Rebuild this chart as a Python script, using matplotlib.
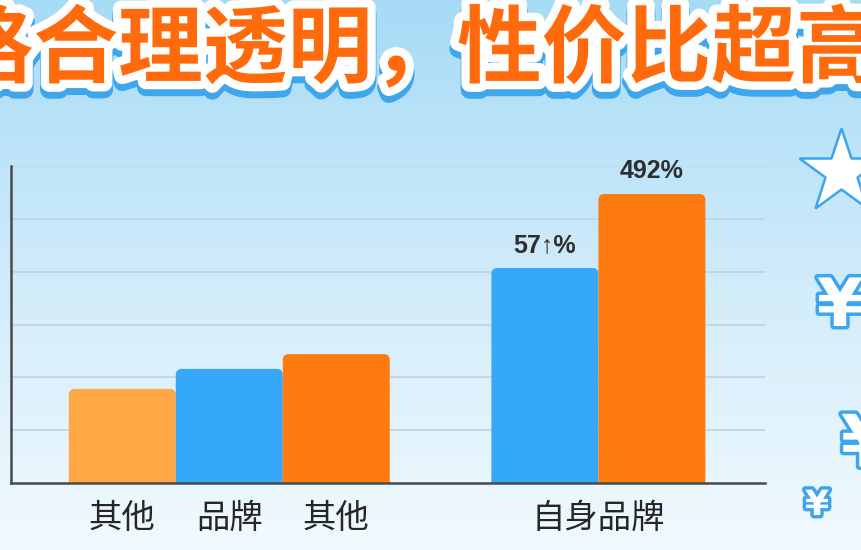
import numpy as np
import matplotlib
matplotlib.use("Agg")
import matplotlib.pyplot as plt
import matplotlib.patheffects as pe
from matplotlib.patches import FancyBboxPatch

plt.rcParams['font.family'] = ['Noto Sans CJK SC', 'DejaVu Sans']

# data (gridline = 10 units)
title = "价格合理透明，性价比超高"
group1_labels = ["其他", "品牌", "其他"]
group1_values = [17.8, 21.6, 24.4]
group1_colors = ["#FFA845", "#35A9F7", "#FF7B12"]
group2_label = "自身品牌"
group2_values = [40.7, 54.7]
group2_colors = ["#35A9F7", "#FF7B12"]
group2_texts = ["57↑%", "492%"]

W, H = 861, 550
fig = plt.figure(figsize=(W / 100, H / 100), dpi=100)

# background gradient
bg = fig.add_axes([0, 0, 1, 1], zorder=-5)
top = np.array([166, 219, 246]) / 255
mid = np.array([212, 237, 251]) / 255
bot = np.array([241, 250, 254]) / 255
t = np.linspace(0, 1, 256)[:, None]
grad = np.where(t < 0.55, top + (mid - top) * (t / 0.55), mid + (bot - mid) * ((t - 0.55) / 0.45))
bg.imshow(grad[:, None, :].repeat(2, axis=1), aspect='auto', extent=[0, W, H, 0])
bg.set_xlim(0, W)
bg.set_ylim(H, 0)
bg.axis('off')

# main chart
ax = fig.add_axes([11 / W, (H - 483) / H, 754 / W, 317 / H])
ax.set_facecolor('none')
ax.set_xlim(0, 7.047)
ax.set_ylim(0, 60)

g1_center, g2_center = 2.04, 5.49
x1 = [g1_center + o for o in (-1, 0, 1)]
x2 = [g2_center + o for o in (-0.5, 0.5)]

bars1 = ax.bar(x1, group1_values, width=1.0, color=group1_colors)
bars2 = ax.bar(x2, group2_values, width=1.0, color=group2_colors)

# rounded top corners: replace each bar by a rounded box, clipped at y=0
px_x = 754 / 7.047
px_y = 317 / 60
for rect in list(bars1) + list(bars2):
    x, y = rect.get_x(), rect.get_y()
    w, h = rect.get_width(), rect.get_height()
    r = 6 / px_x
    patch = FancyBboxPatch((x, y - 3), w, h + 3,
                           boxstyle=f"round,pad=0,rounding_size={r}",
                           mutation_aspect=px_x / px_y,
                           facecolor=rect.get_facecolor(), edgecolor='none', zorder=2)
    ax.add_patch(patch)
    rect.set_visible(False)

ax.set_yticks(np.arange(10, 61, 10))
ax.yaxis.grid(True, color='#C3D3EA', linewidth=1.3)
ax.set_axisbelow(True)
ax.tick_params(axis='y', length=0, labelleft=False)
ax.tick_params(axis='x', length=0, pad=13)
ax.set_xticks(x1 + [g2_center])
ax.set_xticklabels(group1_labels + [group2_label], fontsize=24, color='#262626')

for s in ['top', 'right']:
    ax.spines[s].set_visible(False)
for s in ['left', 'bottom']:
    ax.spines[s].set_color('#4A4A4A')
    ax.spines[s].set_linewidth(1.8)

for xv, yv, txt in zip(x2, group2_values, group2_texts):
    ax.annotate(txt, (xv, yv), xytext=(0, 8), textcoords='offset points',
                ha='center', va='bottom', fontsize=18, fontweight='bold', color='#2E2E2E',
                family=['Liberation Sans', 'DejaVu Sans'])

# title
fig.text(-136 / W, (H - 76) / H, title, ha='left', va='baseline',
         fontsize=61, fontweight='black', color='#FF6A0C',
         path_effects=[pe.Stroke(linewidth=13, foreground='#3FA6EC', offset=(0, -4.5)),
                       pe.Stroke(linewidth=12, foreground='white'),
                       pe.Normal()])

# decorations on the right
deco = fig.add_axes([0, 0, 1, 1], zorder=5)
deco.set_xlim(0, W)
deco.set_ylim(H, 0)
deco.axis('off')
deco.plot([841], [172], marker='*', markersize=64, markerfacecolor='white',
          markeredgecolor='#3DA5EE', markeredgewidth=1.8, clip_on=False)
yen_fx = [pe.Stroke(linewidth=5, foreground='#3DA5EE'), pe.Normal()]
for xp, yp, fs in [(840, 307, 48), (866, 447, 52), (817, 505, 25)]:
    deco.text(xp, yp, "¥", ha='center', va='center', fontsize=fs, fontweight='bold',
              color='white', path_effects=yen_fx, clip_on=False,
              family=['DejaVu Sans'])

fig.savefig("out.png", dpi=100)
